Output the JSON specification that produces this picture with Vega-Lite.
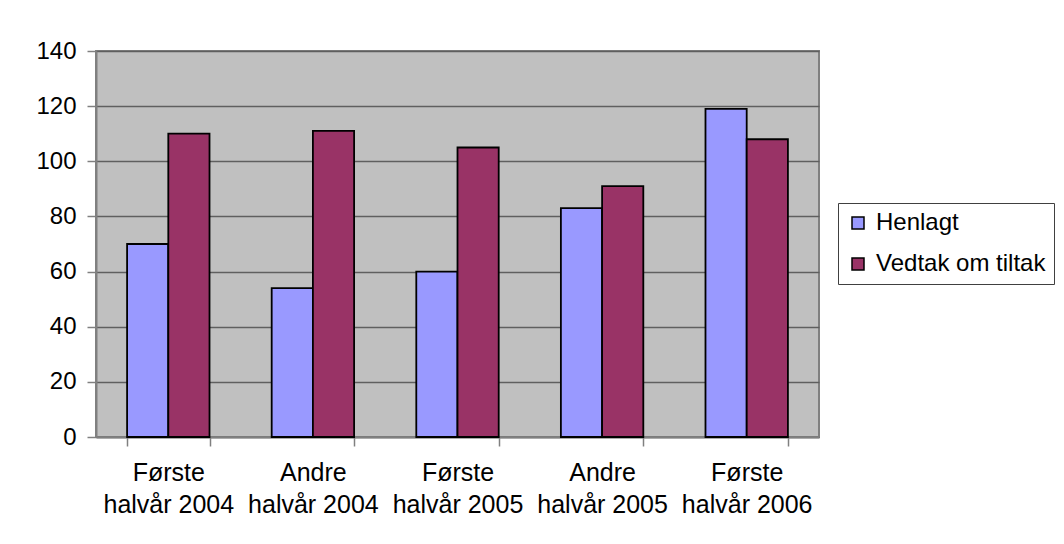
{
  "$schema": "https://vega.github.io/schema/vega-lite/v6.json",
  "autosize": {"type": "none"},
  "padding": {"left": 96, "top": 51, "right": 245, "bottom": 107},
  "width": 723,
  "height": 386,
  "background": "white",
  "data": {
    "values": [
      {"period": "Første halvår 2004", "series": "Henlagt", "value": 70},
      {"period": "Første halvår 2004", "series": "Vedtak om tiltak", "value": 110},
      {"period": "Andre halvår 2004", "series": "Henlagt", "value": 54},
      {"period": "Andre halvår 2004", "series": "Vedtak om tiltak", "value": 111},
      {"period": "Første halvår 2005", "series": "Henlagt", "value": 60},
      {"period": "Første halvår 2005", "series": "Vedtak om tiltak", "value": 105},
      {"period": "Andre halvår 2005", "series": "Henlagt", "value": 83},
      {"period": "Andre halvår 2005", "series": "Vedtak om tiltak", "value": 91},
      {"period": "Første halvår 2006", "series": "Henlagt", "value": 119},
      {"period": "Første halvår 2006", "series": "Vedtak om tiltak", "value": 108}
    ]
  },
  "mark": {"type": "bar", "stroke": "black", "strokeWidth": 1.8},
  "encoding": {
    "x": {
      "field": "period",
      "type": "nominal",
      "sort": null,
      "scale": {"paddingInner": 0.43, "paddingOuter": 0.215},
      "axis": {
        "title": null,
        "labelAngle": 0,
        "tickBand": "extent",
        "labelExpr": "[slice(datum.label, 0, indexof(datum.label, ' ')), slice(datum.label, indexof(datum.label, ' ') + 1)]",
        "labelFontSize": 25,
        "labelLineHeight": 32,
        "labelPadding": 14,
        "tickSize": 9,
        "tickColor": "#808080",
        "tickWidth": 1.5,
        "domainColor": "#808080",
        "domainWidth": 2,
        "grid": false
      }
    },
    "xOffset": {"field": "series", "type": "nominal", "scale": {"paddingInner": 0, "paddingOuter": 0}},
    "y": {
      "field": "value",
      "type": "quantitative",
      "scale": {"domain": [0, 140], "nice": false},
      "axis": {
        "title": null,
        "values": [0, 20, 40, 60, 80, 100, 120, 140],
        "tickSize": 9,
        "labelPadding": 11,
        "tickColor": "#808080",
        "tickWidth": 1.5,
        "domainColor": "#808080",
        "domainWidth": 2,
        "grid": true,
        "gridColor": "#5f5f5f",
        "gridWidth": 1.5
      }
    },
    "color": {
      "field": "series",
      "type": "nominal",
      "scale": {"domain": ["Henlagt", "Vedtak om tiltak"], "range": ["#9999FF", "#993366"]},
      "legend": {
        "title": null,
        "orient": "none",
        "legendX": 742,
        "legendY": 152,
        "symbolType": "square",
        "symbolSize": 144,
        "symbolStrokeColor": "black",
        "symbolStrokeWidth": 1.5,
        "symbolOpacity": 1,
        "labelFontSize": 24,
        "labelLimit": 400,
        "labelOffset": 6,
        "rowPadding": 17,
        "padding": 8,
        "strokeColor": "#404040",
        "fillColor": "white"
      }
    }
  },
  "config": {
    "font": "Liberation Sans",
    "view": {"fill": "#C0C0C0", "stroke": "#808080", "strokeWidth": 2},
    "axis": {"labelFont": "Liberation Sans", "labelFontSize": 24, "labelColor": "black"},
    "legend": {"labelFont": "Liberation Sans", "labelColor": "black"}
  }
}
